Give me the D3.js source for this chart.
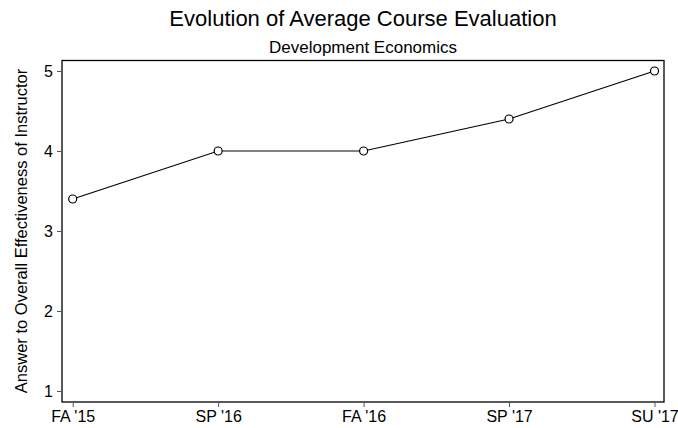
<!DOCTYPE html>
<meta charset="utf-8">
<style>
    body{ margin:0; background:white; }
    text{ font-family: "Liberation Sans", Arial, sans-serif; fill:#000; }
</style>
<script src="https://d3js.org/d3.v7.min.js"></script>
<div id="chart"></div>
<script>
    // data
    var terms = ["FA '15", "SP '16", "FA '16", "SP '17", "SU '17"];
    var scores = [3.4, 4, 4, 4.4, 5];
    var yTicks = [1, 2, 3, 4, 5];

    var W = 678, H = 428;
    // plot box
    var box = {left: 62, right: 664, top: 60.5, bottom: 402};

    var svg = d3.select("#chart").append("svg")
        .attr("width", W).attr("height", H);

    var x = d3.scalePoint()
        .domain(terms)
        .range([72.7, 654.5]);

    var y = d3.scaleLinear()
        .domain([1, 5])
        .range([391, 71]);

    // frame
    svg.append("rect")
        .attr("x", box.left).attr("y", box.top)
        .attr("width", box.right - box.left).attr("height", box.bottom - box.top)
        .attr("fill", "none").attr("stroke", "#000").attr("stroke-width", 1.3);

    // axes
    var yAxis = d3.axisLeft(y).tickValues(yTicks).tickSize(5).tickPadding(4).tickFormat(d3.format("d"));
    svg.append("g")
        .attr("transform", `translate(${box.left},0)`)
        .call(yAxis)
        .attr("font-size", 16).attr("font-family", null)
        .call(g => g.select(".domain").remove())
        .call(g => g.selectAll("line").attr("stroke", "#555"));

    var xAxis = d3.axisBottom(x).tickSize(5).tickPadding(4);
    svg.append("g")
        .attr("transform", `translate(0,${box.bottom})`)
        .call(xAxis)
        .attr("font-size", 16).attr("font-family", null)
        .call(g => g.select(".domain").remove())
        .call(g => g.selectAll("line").attr("stroke", "#555"));

    // line
    var line = d3.line()
        .x(function(d, i){ return x(terms[i]); })
        .y(function(d){ return y(d); });

    svg.append("path")
        .datum(scores)
        .attr("d", line)
        .attr("fill", "none")
        .attr("stroke", "#000")
        .attr("stroke-width", 1.2);

    svg.append("g")
        .selectAll("circle")
        .data(scores)
        .join("circle")
        .attr("cx", function(d, i){ return x(terms[i]); })
        .attr("cy", function(d){ return y(d); })
        .attr("r", 4)
        .attr("fill", "white")
        .attr("stroke", "#000")
        .attr("stroke-width", 1.2);

    // titles
    svg.append("text").attr("x", 363).attr("y", 26).attr("text-anchor", "middle")
        .style("font-size", "22px").text("Evolution of Average Course Evaluation");
    svg.append("text").attr("x", 363).attr("y", 53).attr("text-anchor", "middle")
        .style("font-size", "17px").text("Development Economics");

    svg.append("text")
        .attr("transform", "translate(27,231) rotate(-90)")
        .attr("text-anchor", "middle")
        .style("font-size", "16.5px")
        .text("Answer to Overall Effectiveness of Instructor");
</script>
